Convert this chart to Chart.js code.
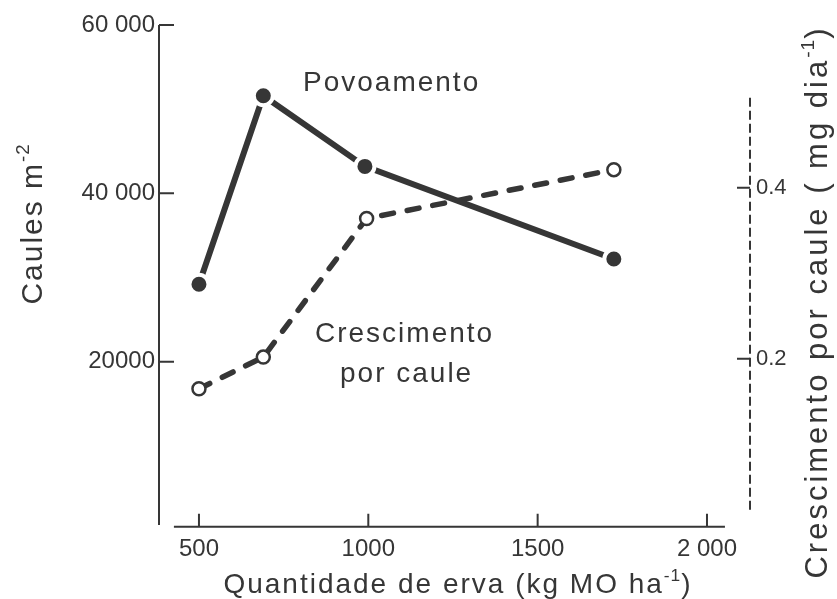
<!DOCTYPE html>
<html>
<head>
<meta charset="utf-8">
<script src="https://cdn.jsdelivr.net/npm/chart.js@4.4.1/dist/chart.umd.min.js"></script>
<style>
  html, body { margin: 0; padding: 0; background: #fff; }
  #wrap { width: 837px; height: 599px; }
</style>
</head>
<body>
<div id="wrap"><canvas id="graph"></canvas></div>
<script>
// tick values and labels
var xTicks = [500, 1000, 1500, 2000];
var xTickLabels = ['500', '1000', '1500', '2 000'];
var leftTicks = [20000, 40000, 60000];
var leftTickLabels = ['20000', '40 000', '60 000'];
var rightTicks = [0.2, 0.4];
var rightTickLabels = ['0.2', '0.4'];

// series
var povoX = [500, 690, 990, 1725];
var povoamento = [29200, 51600, 43200, 32200];
var crescX = [500, 690, 995, 1725];
var crescimento = [0.165, 0.202, 0.364, 0.421];

var ink = '#363636';
var fam = '"Liberation Sans", Arial, sans-serif';

function toPoints(xs, ys) {
    var pts = [];
    for (var i = 0; i < xs.length; i++) {
        pts.push({x: xs[i], y: ys[i]});
    }
    return pts;
}

// draws text with superscript parts, centred on (cx, cy) baseline, optionally rotated
function drawRich(ctx, parts, cx, cy, size, rot, align, spacing) {
    spacing = spacing || 2;
    ctx.save();
    ctx.translate(cx, cy);
    ctx.rotate(rot);
    ctx.fillStyle = ink;
    ctx.textBaseline = 'alphabetic';
    ctx.textAlign = 'left';
    var total = 0;
    var widths = [];
    for (var i = 0; i < parts.length; i++) {
        var s = parts[i].sup ? size * 0.62 : size;
        ctx.font = s + 'px ' + fam;
        ctx.letterSpacing = parts[i].sup ? '1px' : spacing + 'px';
        var w = ctx.measureText(parts[i].t).width;
        widths.push(w);
        total += w;
    }
    var x = align === 'left' ? 0 : -total / 2;
    for (var j = 0; j < parts.length; j++) {
        var s2 = parts[j].sup ? size * 0.62 : size;
        ctx.font = s2 + 'px ' + fam;
        ctx.letterSpacing = parts[j].sup ? '1px' : spacing + 'px';
        ctx.fillText(parts[j].t, x, parts[j].sup ? -size * 0.42 : 0);
        x += widths[j];
    }
    ctx.restore();
}

var axesPlugin = {
    id: 'handAxes',
    beforeDatasetsDraw: function(chart) {
        var ctx = chart.ctx;
        var xs = chart.scales.x, ys = chart.scales.y, ys1 = chart.scales.y1;
        var area = chart.chartArea;
        ctx.save();
        ctx.strokeStyle = ink;
        ctx.lineWidth = 2;

        // left axis with inward ticks
        var lx = area.left;
        ctx.beginPath();
        ctx.moveTo(lx, ys.getPixelForValue(60000));
        ctx.lineTo(lx, ys.getPixelForValue(600));
        for (var i = 0; i < leftTicks.length; i++) {
            var py = ys.getPixelForValue(leftTicks[i]);
            ctx.moveTo(lx, py);
            ctx.lineTo(lx + 15, py);
        }
        ctx.stroke();

        // bottom axis
        var by = ys.getPixelForValue(400);
        ctx.beginPath();
        ctx.moveTo(xs.getPixelForValue(426), by);
        ctx.lineTo(xs.getPixelForValue(2053), by);
        for (var k = 0; k < xTicks.length; k++) {
            var px = xs.getPixelForValue(xTicks[k]);
            ctx.moveTo(px, by);
            ctx.lineTo(px, by - 13);
        }
        ctx.stroke();

        // right dashed axis
        var rx = area.right;
        ctx.setLineDash([9, 4]);
        ctx.beginPath();
        ctx.moveTo(rx, ys1.getPixelForValue(0.505));
        ctx.lineTo(rx, ys1.getPixelForValue(0.021));
        ctx.stroke();
        ctx.setLineDash([]);
        ctx.beginPath();
        for (var m = 0; m < rightTicks.length; m++) {
            var ry = ys1.getPixelForValue(rightTicks[m]);
            ctx.moveTo(rx - 13, ry);
            ctx.lineTo(rx, ry);
        }
        ctx.stroke();
        ctx.restore();
    },
    afterDraw: function(chart) {
        var ctx = chart.ctx;
        drawRich(ctx, [{t: 'Caules m'}, {t: '-2', sup: true}], 42, 224, 30, -Math.PI / 2);
        drawRich(ctx, [{t: 'Quantidade de erva (kg MO ha'}, {t: '-1', sup: true}, {t: ')'}], 458, 593, 28, 0);
        drawRich(ctx, [{t: 'Crescimento por caule ( mg dia'}, {t: '-1', sup: true}, {t: ')'}], 827, 302, 31, -Math.PI / 2, 'center', 3);
        drawRich(ctx, [{t: 'Povoamento'}], 303, 91, 28, 0, 'left');
        drawRich(ctx, [{t: 'Crescimento'}], 315, 342, 28, 0, 'left');
        drawRich(ctx, [{t: 'por caule'}], 340, 382, 28, 0, 'left');
    }
};

var tickFont = {family: fam, size: 24};

new Chart(document.getElementById('graph').getContext('2d'), {
    type: 'line',
    data: {
        datasets: [
            {
                label: 'Povoamento',
                data: toPoints(povoX, povoamento),
                yAxisID: 'y',
                borderColor: ink,
                borderWidth: 6,
                pointRadius: 9.5,
                pointBackgroundColor: ink,
                pointBorderColor: '#ffffff',
                pointBorderWidth: 4,
                tension: 0,
                clip: false
            },
            {
                label: 'Crescimento por caule',
                data: toPoints(crescX, crescimento),
                yAxisID: 'y1',
                borderColor: ink,
                borderWidth: 5.5,
                borderDash: [12, 14],
                borderCapStyle: 'round',
                pointRadius: 6.5,
                pointBackgroundColor: '#ffffff',
                pointBorderColor: ink,
                pointBorderWidth: 2.5,
                tension: 0,
                clip: false
            }
        ]
    },
    options: {
        responsive: true,
        maintainAspectRatio: false,
        animation: false,
        layout: {padding: {top: 25, left: 0, right: 0, bottom: 0}},
        plugins: {legend: {display: false}, tooltip: {enabled: false}},
        scales: {
            x: {
                type: 'linear',
                min: 382,
                max: 2127,
                grid: {display: false, drawTicks: false},
                border: {display: false},
                afterBuildTicks: function(axis) {
                    axis.ticks = xTicks.map(function(v) { return {value: v}; });
                },
                afterFit: function(axis) { axis.height = 69; },
                ticks: {
                    font: tickFont,
                    color: ink,
                    padding: 5,
                    maxRotation: 0,
                    autoSkip: false,
                    callback: function(v) { return xTickLabels[xTicks.indexOf(v)]; }
                }
            },
            y: {
                position: 'left',
                min: 0,
                max: 60000,
                grid: {display: false, drawTicks: false},
                border: {display: false},
                afterBuildTicks: function(axis) {
                    axis.ticks = leftTicks.map(function(v) { return {value: v}; });
                },
                afterFit: function(axis) { axis.width = 159; },
                ticks: {
                    font: tickFont,
                    color: ink,
                    padding: 4,
                    callback: function(v) { return leftTickLabels[leftTicks.indexOf(v)]; }
                }
            },
            y1: {
                position: 'right',
                min: 0,
                max: 0.59,
                grid: {display: false, drawTicks: false},
                border: {display: false},
                afterBuildTicks: function(axis) {
                    axis.ticks = rightTicks.map(function(v) { return {value: v}; });
                },
                afterFit: function(axis) { axis.width = 87; },
                ticks: {
                    font: {family: fam, size: 22},
                    color: ink,
                    padding: 6,
                    callback: function(v) { return rightTickLabels[rightTicks.indexOf(v)]; }
                }
            }
        }
    },
    plugins: [axesPlugin]
});
</script>
</body>
</html>
